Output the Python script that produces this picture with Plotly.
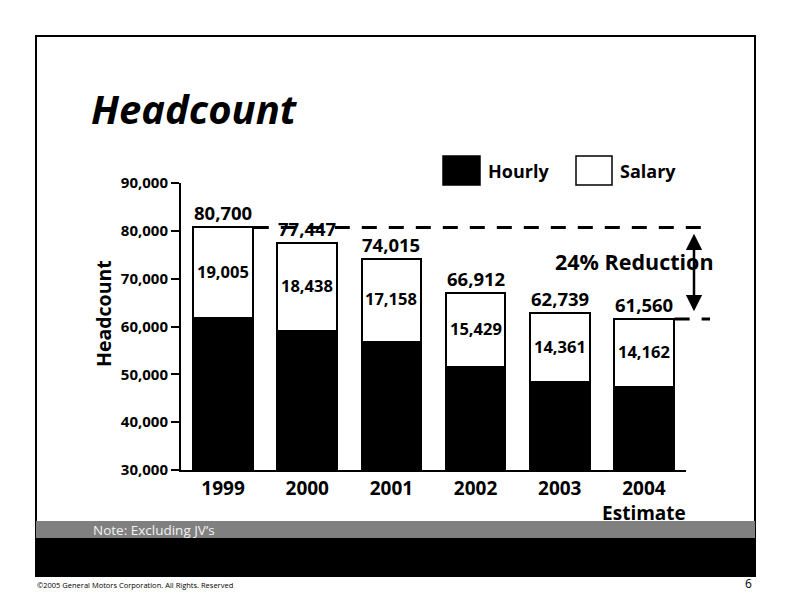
import plotly.graph_objects as go

years = ["1999", "2000", "2001", "2002", "2003", "2004<br>Estimate"]
totals = [80700, 77447, 74015, 66912, 62739, 61560]
salary = [19005, 18438, 17158, 15429, 14361, 14162]
hourly = [t - s for t, s in zip(totals, salary)]
y_ticks = [30000, 40000, 50000, 60000, 70000, 80000, 90000]

W, H = 792, 612
FONT = "Open Sans"

def px(x):
    return x / W

def py(y):
    return 1 - y / H

XD = (px(181), px(686))
YD = (py(470), py(183))
BARGAP = 0.29
n = len(years)
idx = list(range(n))

def cat_paper(v):
    return XD[0] + (v + 0.5) / n * (XD[1] - XD[0])

fig = go.Figure()
fig.add_trace(go.Bar(x=idx, y=hourly, name="Hourly",
                     marker=dict(color="black", line=dict(color="black", width=2))))
fig.add_trace(go.Bar(x=idx, y=salary, name="Salary",
                     marker=dict(color="white", line=dict(color="black", width=2))))

shapes = []
annotations = []

# slide frame and bands
shapes.append(dict(type="rect", xref="paper", yref="paper", x0=px(36), x1=px(755), y0=py(576), y1=py(36),
                   line=dict(color="black", width=2), fillcolor="rgba(0,0,0,0)", layer="below"))
shapes.append(dict(type="rect", xref="paper", yref="paper", x0=px(36), x1=px(755), y0=py(538), y1=py(521),
                   line=dict(width=0), fillcolor="#808080", layer="below"))
shapes.append(dict(type="rect", xref="paper", yref="paper", x0=px(36), x1=px(755), y0=py(576), y1=py(538),
                   line=dict(width=0), fillcolor="black", layer="below"))

# legend
shapes.append(dict(type="rect", xref="paper", yref="paper", x0=px(443), x1=px(480), y0=py(185), y1=py(156),
                   line=dict(color="black", width=1.5), fillcolor="black"))
shapes.append(dict(type="rect", xref="paper", yref="paper", x0=px(576), x1=px(612), y0=py(185), y1=py(156),
                   line=dict(color="black", width=1.5), fillcolor="white"))
annotations.append(dict(xref="paper", yref="paper", x=px(486), y=py(171), xanchor="left", yanchor="middle",
                        text="<b>Hourly</b>", showarrow=False, font=dict(size=18, color="black", family=FONT)))
annotations.append(dict(xref="paper", yref="paper", x=px(618), y=py(171), xanchor="left", yanchor="middle",
                        text="<b>Salary</b>", showarrow=False, font=dict(size=18, color="black", family=FONT)))

# dashed reference lines
half = (1 - BARGAP) / 2 + 0.01
shapes.append(dict(type="line", xref="paper", yref="y", x0=cat_paper(0 + half), x1=px(702),
                   y0=totals[0], y1=totals[0], line=dict(color="black", width=3, dash="15px,12px")))
shapes.append(dict(type="line", xref="paper", yref="y", x0=cat_paper(n - 1 + half), x1=px(710),
                   y0=totals[-1], y1=totals[-1], line=dict(color="black", width=3, dash="15px,12px")))

# reduction arrow
reduction = round((totals[0] - totals[-1]) / totals[0] * 100)
annotations.append(dict(xref="paper", yref="y", x=px(694), y=totals[0] - 1300,
                        axref="pixel", ayref="y", ax=0, ay=totals[-1] + 1300,
                        showarrow=True, arrowside="end+start", arrowhead=2, arrowsize=1.3,
                        arrowwidth=2.5, arrowcolor="black", text=""))
annotations.append(dict(xref="paper", yref="paper", x=px(634), y=py(261), xanchor="center", yanchor="middle",
                        text=f"<b>{reduction}% Reduction</b>", showarrow=False,
                        font=dict(size=21.5, color="black", family=FONT)))

# totals above bars and salary labels inside
for i in idx:
    annotations.append(dict(x=i, y=totals[i], xref="x", yref="y", yanchor="bottom", yshift=0,
                            text=f"<b>{totals[i]:,}</b>", showarrow=False,
                            font=dict(size=18.5, color="black", family=FONT)))
    annotations.append(dict(x=i, y=hourly[i] + salary[i] * 0.52, xref="x", yref="y", yanchor="middle",
                            text=f"<b>{salary[i]:,}</b>", showarrow=False,
                            font=dict(size=16.5, color="black", family=FONT)))

# title, axis title, notes
annotations.append(dict(xref="paper", yref="paper", x=px(89), y=py(108), xanchor="left", yanchor="middle",
                        text="<b><i>Headcount</i></b>", showarrow=False,
                        font=dict(size=40, color="black", family=FONT)))
annotations.append(dict(xref="paper", yref="paper", x=px(103), y=py(314), xanchor="center",
                        yanchor="middle", textangle=-90, text="<b>Headcount</b>", showarrow=False,
                        font=dict(size=19.5, color="black", family=FONT)))
annotations.append(dict(xref="paper", yref="paper", x=px(91), y=py(530), xanchor="left", yanchor="middle",
                        text="Note: Excluding JV’s", showarrow=False,
                        font=dict(size=13.5, color="#f2f2f2", family=FONT)))
annotations.append(dict(xref="paper", yref="paper", x=px(35), y=py(585), xanchor="left", yanchor="middle",
                        text="©2005 General Motors Corporation. All Rights. Reserved", showarrow=False,
                        font=dict(size=7.5, color="black", family=FONT)))
annotations.append(dict(xref="paper", yref="paper", x=px(754), y=py(583), xanchor="right", yanchor="middle",
                        text="6", showarrow=False, font=dict(size=12, color="black", family=FONT)))

fig.update_layout(
    width=W, height=H, margin=dict(l=0, r=0, t=0, b=0, autoexpand=False),
    paper_bgcolor="white", plot_bgcolor="white",
    barmode="stack", bargap=BARGAP, showlegend=False,
    font=dict(family=FONT, color="black"),
    shapes=shapes, annotations=annotations,
    xaxis=dict(domain=list(XD), range=[-0.5, n - 0.5], tickmode="array", tickvals=idx, automargin=False,
               ticktext=[f"<b>{y}</b>" for y in years], tickfont=dict(size=19, family=FONT, color="black"),
               showline=True, linecolor="black", linewidth=2, ticks="", showgrid=False, zeroline=False,
               fixedrange=True),
    yaxis=dict(domain=list(YD), range=[y_ticks[0], y_ticks[-1]], tickmode="array", tickvals=y_ticks,
               automargin=False,
               ticktext=[f"<b>{v:,}</b>" for v in y_ticks], tickfont=dict(size=15, family=FONT, color="black"),
               showline=True, linecolor="black", linewidth=2, ticks="outside", ticklen=8, tickwidth=2,
               tickcolor="black", showgrid=False, zeroline=False, fixedrange=True),
)

fig.write_html("out.html")
